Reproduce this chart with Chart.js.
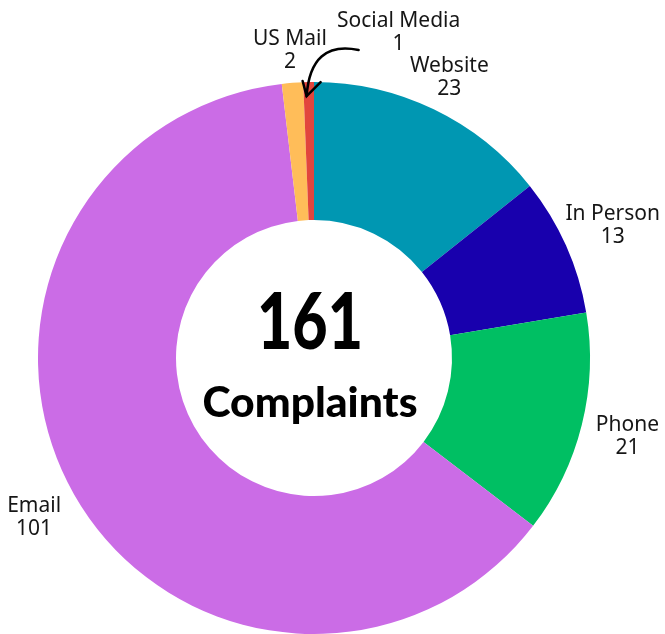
<!DOCTYPE html>
<html>
<head>
<meta charset="utf-8">
<script src="https://cdn.jsdelivr.net/npm/chart.js@4"></script>
<style>
  html, body { margin: 0; padding: 0; background: #fff; }
  #wrap { width: 665px; height: 634px; }
</style>
</head>
<body>
<div id="wrap"><canvas id="complaintsChart"></canvas></div>
<script>
const channels = ["Website", "In Person", "Phone", "Email", "US Mail", "Social Media"];
const complaints = [23, 13, 21, 101, 2, 1];
const sliceColors = ["#0097B2", "#1800AD", "#00BF63", "#CB6CE6", "#FFBD59", "#E2463D"];
const centerCaption = "Complaints";

const total = complaints.reduce((a, b) => a + b, 0);

// how far outside the ring each label sits
const labelGap = [36, 51, 47, 46, 33, 0];

// draws text squeezed/stretched to a given width
function fitText(ctx, text, x, y, width) {
  const w = ctx.measureText(text).width;
  ctx.save();
  ctx.translate(x, y);
  ctx.scale(width / w, 1);
  ctx.fillText(text, 0, 0);
  ctx.restore();
}

const labelPlugin = {
  id: "outsideLabels",
  afterDraw(chart) {
    const ctx = chart.ctx;
    const arcs = chart.getDatasetMeta(0).data;
    ctx.save();
    ctx.fillStyle = "#161616";
    ctx.textAlign = "center";
    ctx.textBaseline = "middle";
    ctx.font = "21px 'Noto Sans', sans-serif";

    arcs.forEach((arc, i) => {
      const mid = (arc.startAngle + arc.endAngle) / 2;
      const r = arc.outerRadius;
      let lx, ly;
      if (channels[i] === "Social Media") {
        const ex = arc.x + Math.cos(mid) * r;
        const ey = arc.y + Math.sin(mid) * r;
        lx = ex + 90;
        ly = ey - 50;
        // curved pointer arrow
        const sx = ex + 50, sy = ey - 32;
        const tx = ex - 2, ty = ey + 14;
        ctx.strokeStyle = "#000";
        ctx.lineWidth = 2.5;
        ctx.lineCap = "round";
        ctx.beginPath();
        ctx.moveTo(sx, sy);
        ctx.quadraticCurveTo(ex + 2, ey - 42, tx, ty);
        ctx.stroke();
        ctx.beginPath();
        ctx.moveTo(tx - 4, ty - 15);
        ctx.lineTo(tx, ty);
        ctx.lineTo(tx + 14, ty - 14);
        ctx.stroke();
      } else {
        lx = arc.x + Math.cos(mid) * (r + labelGap[i]);
        ly = arc.y + Math.sin(mid) * (r + labelGap[i]);
      }
      ctx.fillText(channels[i], lx, ly - 11);
      ctx.fillText(String(complaints[i]), lx, ly + 12);
    });

    // centre total
    const c = arcs[0];
    ctx.fillStyle = "#000";
    ctx.font = "900 78px Lato, sans-serif";
    fitText(ctx, String(total), c.x - 4, c.y - 34, 106);
    ctx.font = "900 42px Lato, sans-serif";
    fitText(ctx, centerCaption, c.x - 4, c.y + 45, 215);
    ctx.restore();
  }
};

new Chart(document.getElementById("complaintsChart"), {
  type: "doughnut",
  data: {
    labels: channels,
    datasets: [{
      data: complaints,
      backgroundColor: sliceColors,
      borderWidth: 0
    }]
  },
  options: {
    responsive: true,
    maintainAspectRatio: false,
    animation: false,
    cutout: "50%",
    layout: { padding: { left: 38, right: 75, top: 82, bottom: 0 } },
    plugins: {
      legend: { display: false },
      tooltip: { enabled: false }
    }
  },
  plugins: [labelPlugin]
});
</script>
</body>
</html>
